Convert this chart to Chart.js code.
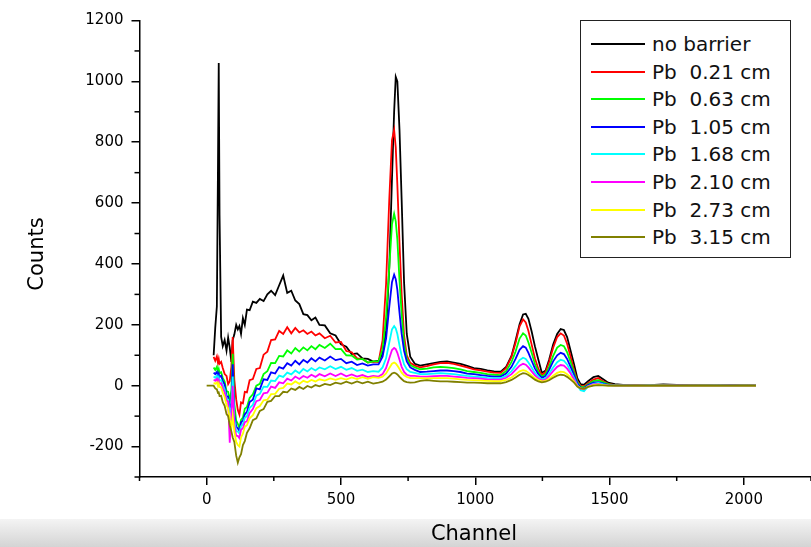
<!DOCTYPE html>
<html>
<head>
<meta charset="utf-8">
<script src="https://cdn.jsdelivr.net/npm/chart.js@4.4.0/dist/chart.umd.min.js"></script>
<style>
html, body { margin: 0; padding: 0; background: #fff; }
#wrap { position: relative; width: 811px; height: 547px; overflow: hidden; }
#band { position: absolute; left: 0; top: 519px; width: 811px; height: 28px; background: linear-gradient(#f4f4f4, #d4d4d4); }
canvas { position: absolute; left: 0; top: 0; }
#legend { position: absolute; left: 580px; top: 20px; width: 209px; height: 236px; border: 1.5px solid #222; background: #fff; font-family: "DejaVu Sans", sans-serif; font-size: 20px; }
.item { position: absolute; left: 0; width: 100%; height: 28px; }
.item .sw { position: absolute; left: 10px; top: 13px; width: 54px; height: 2px; }
.item .tx { position: absolute; left: 71px; top: 2px; line-height: 24px; white-space: pre; color: #111; }
</style>
</head>
<body>
<div id="wrap">
  <div id="band"></div>
  <canvas id="myChart" width="811" height="547"></canvas>
  <div id="legend"></div>
</div>
<script>
const channels = [0, 26, 32, 38, 42, 45, 48, 54, 60, 67, 74, 80, 86, 92, 97, 103, 110, 116, 122, 128,
  135, 142, 150, 160, 172, 185, 198, 212, 226, 240, 255, 270, 285, 300, 315, 330, 345, 360, 375, 390,
  405, 420, 440, 460, 480, 500, 520, 540, 560, 580, 600, 620,
  640, 655, 668, 680, 690, 698, 704, 710, 718, 726, 735, 745, 758,
  775, 795, 820, 845, 870, 895, 920, 945, 970, 995, 1020, 1045, 1070,
  1095, 1115, 1135, 1150, 1165, 1178, 1188, 1198, 1210, 1222, 1235, 1248, 1262, 1275, 1290, 1305, 1318, 1330,
  1342, 1355, 1368, 1380, 1392, 1405, 1420, 1440, 1458, 1475, 1495,
  1520, 1550, 1600, 1650, 1700, 1750, 1800, 1850, 1900, 1950, 2000, 2045];

const noBarrier = [null, 100, 190, 260, 700, 1060, 560, 160, 130, 150, 115, 158, 125, 78, 150, 168, 200, 185, 196, 170,
  222, 200, 250, 248, 276, 272, 285, 278, 300, 312, 298, 330, 362, 305, 312, 280, 268, 235, 232, 215,
  224, 200, 198, 172, 165, 136, 128, 104, 106, 90, 88, 79,
  82, 105, 180, 390, 680, 900, 1015, 1000, 840, 610, 340, 170, 95,
  72, 66, 70, 74, 78, 80, 76, 72, 65, 58, 55, 50, 47,
  46, 62, 98, 148, 202, 234, 236, 220, 178, 130, 85, 42, 50, 85, 135, 170, 186, 183,
  160, 115, 70, 25, 5, 3, 15, 28, 32, 22, 10,
  5, 3, 2, 2, 4, 3, 2, 2, 3, 2, 2, 1];

const pb021 = [null, 95, 82, 96, 76, 88, 72, 78, 58, 38, 32, 5, 15, 62, 160, 20, -45, -80, -95, -55,
  -58, -20, -22, 18, 22, 55, 58, 102, 112, 150, 152, 180, 170, 192, 172, 190, 175, 182, 170, 178,
  165, 172, 156, 164, 142, 144, 114, 110, 90, 88, 76, 79,
  78, 150, 335, 614, 807, 840, 783, 660, 468, 300, 165, 100, 75,
  66, 60, 64, 70, 74, 75, 72, 66, 60, 54, 50, 46, 43,
  42, 58, 95, 140, 195, 218, 208, 180, 135, 90, 55, 35, 45, 78, 125, 160, 172, 165,
  138, 95, 50, 15, 0, -2, 8, 20, 25, 15, 6,
  2, 1, 1, 0, 2, 1, 0, 1, 1, 0, 1, 0];

const pb063 = [null, 60, 52, 62, 46, 55, 42, 44, 26, 14, -18, -20, -50, -15, 105, -60, -115, -125, -140, -112,
  -105, -76, -70, -40, -28, 0, 6, 38, 48, 75, 74, 98, 96, 116, 106, 124, 112, 126, 116, 130,
  120, 134, 124, 138, 120, 121, 100, 99, 86, 88, 76, 80,
  80, 120, 225, 390, 530, 565, 540, 480, 345, 235, 140, 90, 68,
  60, 54, 56, 60, 62, 60, 58, 54, 48, 45, 42, 38, 36,
  35, 48, 78, 112, 155, 172, 165, 142, 108, 72, 45, 30, 38, 62, 98, 125, 134, 130,
  110, 78, 42, 12, -3, -5, 5, 15, 18, 12, 5,
  1, 1, 0, 0, 1, 0, 0, 1, 0, 0, 1, 0];

const pb105 = [null, 43, 38, 45, 33, 40, 29, 33, 16, 4, -34, -36, -79, -56, 70, -95, -134, -140, -149, -120,
  -115, -94, -86, -54, -46, -9, -12, 21, 19, 44, 40, 61, 56, 74, 66, 82, 70, 85, 76, 90,
  80, 92, 83, 96, 84, 88, 74, 79, 68, 73, 66, 70,
  70, 95, 155, 260, 340, 365, 350, 315, 240, 170, 115, 80, 60,
  52, 45, 46, 48, 50, 50, 48, 45, 40, 38, 35, 32, 30,
  30, 40, 62, 88, 118, 130, 125, 108, 82, 57, 38, 26, 32, 52, 80, 100, 108, 104,
  88, 62, 35, 8, -6, -8, 2, 10, 12, 8, 3,
  0, 1, 0, 0, 0, 1, 0, 0, 0, 1, 0, 0];

const pb168 = [null, 30, 26, 33, 21, 28, 17, 18, 2, -12, -44, -46, -89, -70, 30, -110, -150, -150, -157, -133,
  -127, -105, -100, -73, -63, -33, -27, -3, -4, 17, 15, 33, 29, 43, 37, 50, 41, 55, 47, 58,
  50, 60, 54, 64, 55, 62, 52, 58, 49, 53, 45, 48,
  46, 60, 90, 142, 185, 196, 188, 170, 132, 98, 70, 54, 45,
  42, 38, 38, 40, 41, 40, 38, 35, 32, 30, 28, 26, 25,
  25, 32, 48, 65, 84, 92, 88, 76, 60, 42, 30, 20, 25, 40, 60, 77, 85, 82,
  70, 48, 25, 2, -15, -18, -2, 6, 9, 5, 1,
  0, 0, 0, 1, 0, 0, 0, 0, 1, 0, 0, 0];

const pb210 = [null, 20, 16, 23, 11, 18, 7, 8, -8, -22, -49, -52, -187, -95, 0, -130, -165, -165, -172, -145,
  -140, -120, -117, -90, -77, -51, -47, -25, -23, -3, -7, 11, 8, 23, 17, 30, 22, 32, 26, 36,
  29, 38, 31, 40, 32, 40, 31, 37, 30, 35, 28, 32,
  30, 38, 58, 90, 117, 124, 120, 108, 85, 62, 45, 36, 32,
  32, 30, 30, 31, 32, 32, 30, 28, 26, 25, 23, 21, 20,
  20, 26, 38, 52, 66, 72, 69, 60, 47, 34, 24, 17, 20, 32, 48, 62, 68, 66,
  56, 40, 20, 0, -10, -12, -2, 4, 6, 3, 1,
  0, 0, 0, 0, 0, 0, 0, 0, 0, 0, 0, 0];

const pb273 = [null, 10, 6, 11, -1, 7, -5, -5, -23, -37, -64, -75, -110, -140, -100, -150, -185, -195, -200, -170,
  -158, -135, -130, -107, -97, -74, -67, -48, -46, -28, -27, -10, -7, 7, 4, 14, 6, 16, 11, 19,
  14, 21, 17, 24, 19, 25, 20, 27, 22, 28, 23, 28,
  26, 30, 40, 58, 72, 76, 73, 66, 55, 43, 34, 29, 25,
  25, 25, 24, 25, 25, 25, 23, 21, 19, 18, 17, 16, 15,
  15, 19, 27, 37, 47, 51, 49, 43, 34, 25, 18, 14, 16, 23, 33, 42, 46, 45,
  38, 27, 14, -2, -8, -10, -3, 2, 4, 2, 0,
  0, 0, 0, 0, 0, 0, 0, 0, 0, 0, 0, 0];

const pb315 = [0, 0, -9, -12, -23, -22, -34, -33, -54, -66, -93, -100, -130, -150, -170, -185, -230, -253, -235, -225,
  -195, -182, -155, -140, -113, -107, -83, -77, -53, -50, -34, -34, -20, -22, -9, -14, -4, -11, -1, -6,
  2, -2, 6, 2, 10, 6, 13, 7, 14, 8, 13, 7,
  10, 13, 20, 31, 40, 43, 41, 37, 29, 22, 15, 12, 10,
  11, 16, 18, 16, 14, 14, 13, 12, 10, 10, 9, 8, 8,
  8, 12, 19, 27, 36, 41, 40, 35, 28, 20, 14, 11, 13, 18, 26, 33, 36, 35,
  29, 20, 10, -3, -9, -10, -4, 0, 2, 1, 0,
  0, 0, 0, 0, 0, 0, 0, 0, 0, 0, 0, 0];

const seriesNames = ['no barrier', 'Pb  0.21 cm', 'Pb  0.63 cm', 'Pb  1.05 cm', 'Pb  1.68 cm', 'Pb  2.10 cm', 'Pb  2.73 cm', 'Pb  3.15 cm'];
const seriesValues = [noBarrier, pb021, pb063, pb105, pb168, pb210, pb273, pb315];
const seriesColors = ['#000000', '#ff0000', '#00ff00', '#0000ff', '#00ffff', '#ff00ff', '#ffff00', '#808000'];

const xTicks = [0, 500, 1000, 1500, 2000];
const xMinor = [-250, 250, 750, 1250, 1750, 2250];
const yTicks = [-200, 0, 200, 400, 600, 800, 1000, 1200];
const yMinor = [-300, -100, 100, 300, 500, 700, 900, 1100];

// legend (html, outside the canvas)
const legendEl = document.getElementById('legend');
seriesNames.forEach((name, i) => {
  const item = document.createElement('div');
  item.className = 'item';
  item.style.top = Math.round(9 + i * 27.6) + 'px';
  const sw = document.createElement('span');
  sw.className = 'sw';
  sw.style.background = seriesColors[i];
  const tx = document.createElement('span');
  tx.className = 'tx';
  tx.textContent = name;
  item.appendChild(sw);
  item.appendChild(tx);
  legendEl.appendChild(item);
});

// minor ticks + axis titles
const extras = {
  id: 'extras',
  afterDraw(chart) {
    const ctx = chart.ctx;
    const x = chart.scales.x, y = chart.scales.y;
    ctx.save();
    ctx.strokeStyle = '#000';
    ctx.lineWidth = 1.5;
    xMinor.forEach(v => {
      const p = x.getPixelForValue(v);
      ctx.beginPath(); ctx.moveTo(p, y.bottom); ctx.lineTo(p, y.bottom + 4); ctx.stroke();
    });
    yMinor.forEach(v => {
      const p = y.getPixelForValue(v);
      ctx.beginPath(); ctx.moveTo(x.left, p); ctx.lineTo(x.left - 5, p); ctx.stroke();
    });
    ctx.fillStyle = '#000';
    ctx.font = '21px "DejaVu Sans"';
    ctx.textAlign = 'center';
    ctx.textBaseline = 'middle';
    ctx.fillText('Channel', 474, 535);
    ctx.translate(38, 254);
    ctx.rotate(-Math.PI / 2);
    ctx.fillText('Counts', 0, 0);
    ctx.restore();
  }
};

const datasets = seriesValues.map((vals, i) => ({
  label: seriesNames[i],
  data: channels.map((c, j) => ({ x: c, y: vals[j] })),
  borderColor: seriesColors[i],
  backgroundColor: seriesColors[i],
  borderWidth: 1.8,
  pointRadius: 0,
  tension: 0,
  order: seriesValues.length - i
}));

const axisFont = { family: 'DejaVu Sans', size: 15 };

new Chart(document.getElementById('myChart'), {
  type: 'line',
  data: { datasets: datasets },
  plugins: [extras],
  options: {
    responsive: false,
    animation: false,
    devicePixelRatio: 1,
    layout: { padding: { top: 20.5, right: 0, left: 0, bottom: 0 } },
    plugins: { legend: { display: false }, tooltip: { enabled: false } },
    scales: {
      x: {
        type: 'linear',
        min: -250, max: 2250,
        afterBuildTicks: s => { s.ticks = xTicks.map(v => ({ value: v })); },
        afterFit: s => { s.height = 70; },
        ticks: { font: axisFont, color: '#000', padding: 6, maxRotation: 0, autoSkip: false, callback: v => String(v) },
        grid: { drawOnChartArea: false, tickLength: 8, color: '#000', lineWidth: 1.5 },
        border: { color: '#000', width: 1.5 }
      },
      y: {
        type: 'linear',
        min: -300, max: 1200,
        afterBuildTicks: s => { s.ticks = yTicks.map(v => ({ value: v })); },
        afterFit: s => { s.width = 139.5; },
        ticks: { font: axisFont, color: '#000', padding: 8, callback: v => String(v) },
        grid: { drawOnChartArea: false, tickLength: 8, color: '#000', lineWidth: 1.5 },
        border: { color: '#000', width: 1.5 }
      }
    }
  }
});
</script>
</body>
</html>
